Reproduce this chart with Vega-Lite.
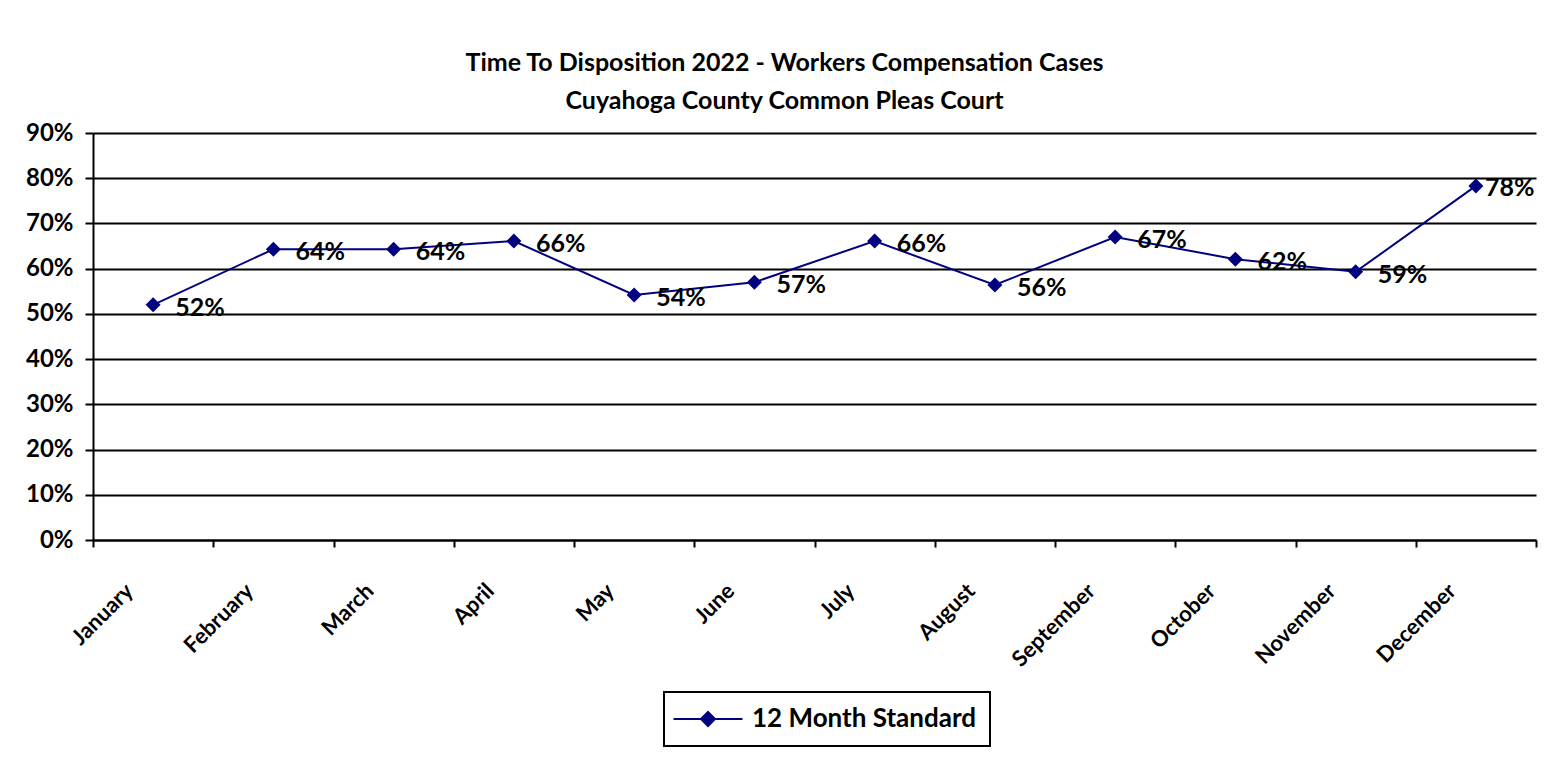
{
  "$schema": "https://vega.github.io/schema/vega-lite/v6.json",
  "autosize": "none",
  "width": 1443,
  "height": 407,
  "padding": {"left": 93, "top": 133, "right": 26, "bottom": 220},
  "background": "white",
  "title": {
    "text": ["Time To Disposition 2022 - Workers Compensation Cases", "Cuyahoga County Common Pleas Court"],
    "font": "Lato",
    "fontSize": 25,
    "fontWeight": "bold",
    "color": "black",
    "anchor": "middle",
    "dx": -30,
    "lineHeight": 38,
    "offset": 7
  },
  "config": {
    "view": {"stroke": null},
    "font": "Lato"
  },
  "data": {
    "values": [
      {"month": "January", "value": 0.52},
      {"month": "February", "value": 0.643},
      {"month": "March", "value": 0.643},
      {"month": "April", "value": 0.661},
      {"month": "May", "value": 0.542},
      {"month": "June", "value": 0.57},
      {"month": "July", "value": 0.661},
      {"month": "August", "value": 0.564},
      {"month": "September", "value": 0.67},
      {"month": "October", "value": 0.621},
      {"month": "November", "value": 0.593},
      {"month": "December", "value": 0.783}
    ]
  },
  "encoding": {
    "x": {
      "field": "month",
      "type": "nominal",
      "sort": null,
      "title": null,
      "scale": {"paddingInner": 0, "paddingOuter": 0},
      "axis": {
        "labelAngle": -45,
        "labelAlign": "right",
        "labelBaseline": "middle",
        "labelFont": "Lato",
        "labelFontSize": 22,
        "labelFontWeight": "bold",
        "labelColor": "black",
        "labelPadding": 40,
        "labelOffset": -24,
        "tickBand": "extent",
        "tickSize": 7,
        "tickColor": "black",
        "tickWidth": 2,
        "domainColor": "black",
        "domainWidth": 2,
        "grid": false
      }
    },
    "y": {
      "field": "value",
      "type": "quantitative",
      "title": null,
      "scale": {"domain": [0, 0.9], "nice": false},
      "axis": {
        "values": [0, 0.1, 0.2, 0.3, 0.4, 0.5, 0.6, 0.7, 0.8, 0.9],
        "format": ".0%",
        "labelFont": "Lato",
        "labelFontSize": 24,
        "labelFontWeight": "bold",
        "labelColor": "black",
        "labelPadding": 12,
        "tickSize": 8,
        "tickColor": "black",
        "tickWidth": 2,
        "domainColor": "black",
        "domainWidth": 2,
        "grid": true,
        "gridColor": "black",
        "gridWidth": 2,
        "gridOpacity": 1
      }
    }
  },
  "layer": [
    {
      "mark": {"type": "line", "strokeWidth": 2},
      "encoding": {
        "color": {
          "datum": "12 Month Standard",
          "type": "nominal",
          "scale": {"range": ["#000080"]},
          "legend": {
            "title": null,
            "orient": "none",
            "legendX": 571,
            "legendY": 559,
            "symbolType": "M-3.45,0H3.45M-0.7,0L0,-0.7L0.7,0L0,0.7Z",
            "symbolSize": 400,
            "symbolOffset": 17,
            "symbolStrokeWidth": 2,
            "symbolFillColor": "#000080",
            "symbolStrokeColor": "#000080",
            "labelFont": "Lato",
            "labelFontSize": 26,
            "labelFontWeight": "bold",
            "labelColor": "black",
            "labelOffset": 31,
            "labelLimit": 0,
            "strokeColor": "black",
            "fillColor": "white",
            "padding": 14,
            "encode": {"legend": {"update": {"strokeWidth": {"value": 2}}}}
          }
        }
      }
    },
    {
      "mark": {"type": "point", "shape": "diamond", "filled": true, "size": 225, "color": "#000080", "opacity": 1}
    },
    {
      "transform": [{"filter": "datum.month !== 'December'"}],
      "mark": {"type": "text", "align": "left", "baseline": "middle", "dx": 22, "dy": 3, "font": "Lato", "fontSize": 25, "fontWeight": "bold", "color": "black"},
      "encoding": {"text": {"field": "value", "format": ".0%"}}
    },
    {
      "transform": [{"filter": "datum.month === 'December'"}],
      "mark": {"type": "text", "align": "left", "baseline": "middle", "dx": 9, "dy": 2, "font": "Lato", "fontSize": 25, "fontWeight": "bold", "color": "black"},
      "encoding": {"text": {"field": "value", "format": ".0%"}}
    }
  ]
}
